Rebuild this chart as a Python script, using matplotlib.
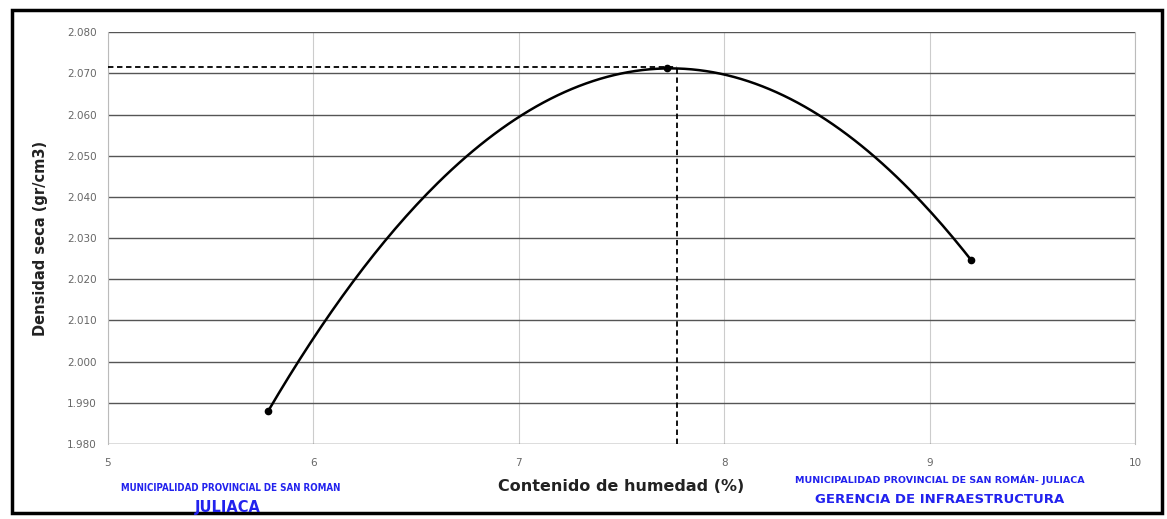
import numpy as np
import matplotlib
matplotlib.use("Agg")
import matplotlib.pyplot as plt
from matplotlib.patches import Rectangle

# Data
humedad = [5.78, 7.72, 9.20]
densidad = [1.988, 2.0712, 2.0248]
opt_humedad = 7.77
max_densidad = 2.0715
x_ticks = [5, 6, 7, 8, 9, 10]
y_ticks = [1.980, 1.990, 2.000, 2.010, 2.020, 2.030, 2.040, 2.050, 2.060, 2.070, 2.080]

fig = plt.figure(figsize=(11.67, 5.19), dpi=100)
ax = fig.add_axes([0.0925, 0.1445, 0.8801, 0.7935])

# Curve: parabola through the points
coef = np.polyfit(humedad, densidad, 2)
xs = np.linspace(humedad[0], humedad[-1], 200)
ax.plot(xs, np.polyval(coef, xs), color="black", lw=1.8, zorder=3)
ax.plot(humedad, densidad, "o", color="black", ms=4.5, zorder=4)

# Dashed reference lines
ax.plot([5, opt_humedad], [max_densidad, max_densidad], ls=(0, (3, 2)), color="black", lw=1.3, zorder=3)
ax.plot([opt_humedad, opt_humedad], [1.980, max_densidad], ls=(0, (3, 2)), color="black", lw=1.3, zorder=3)

ax.set_xlim(5, 10)
ax.set_ylim(1.980, 2.080)
ax.set_xticks(x_ticks)
ax.set_xticklabels([str(t) for t in x_ticks])
ax.set_yticks(y_ticks)
ax.set_yticklabels([f"{t:.3f}" for t in y_ticks])
ax.tick_params(axis="both", labelsize=7.5, colors="#666666", length=0, pad=8)
ax.tick_params(axis="x", pad=10)

ax.yaxis.grid(True, color="#555555", lw=1.0)
ax.xaxis.grid(True, color="#cccccc", lw=0.8)
ax.set_axisbelow(True)
for side in ["top", "bottom"]:
    ax.spines[side].set_visible(False)
for side in ["left", "right"]:
    ax.spines[side].set_color("#bbbbbb")
    ax.spines[side].set_linewidth(0.8)

ax.set_xlabel("Contenido de humedad (%)", fontsize=11.5, fontweight="bold", color="#222222", labelpad=8)
ax.set_ylabel("Densidad seca (gr/cm3)", fontsize=10.5, fontweight="bold", color="#222222", labelpad=14)

# Outer frame
fig.patches.append(Rectangle((12 / 1167, 6 / 519), 1150 / 1167, 503 / 519,
                             transform=fig.transFigure, fill=False,
                             edgecolor="black", lw=2.5))

# Stamps
fig.text(0.198, 0.060, "MUNICIPALIDAD PROVINCIAL DE SAN ROMAN", color="#2222ee",
         fontsize=7, fontweight="bold", ha="center", va="center", stretch="condensed")
fig.text(0.195, 0.022, "JULIACA", color="#2222ee", fontsize=10.5, fontweight="bold",
         ha="center", va="center")
fig.text(0.805, 0.075, "MUNICIPALIDAD PROVINCIAL DE SAN ROMÁN- JULIACA", color="#2222ee",
         fontsize=6.8, fontweight="bold", ha="center", va="center")
fig.text(0.805, 0.037, "GERENCIA DE INFRAESTRUCTURA", color="#2222ee",
         fontsize=9.5, fontweight="bold", ha="center", va="center")

fig.savefig("out.png", dpi=100)
